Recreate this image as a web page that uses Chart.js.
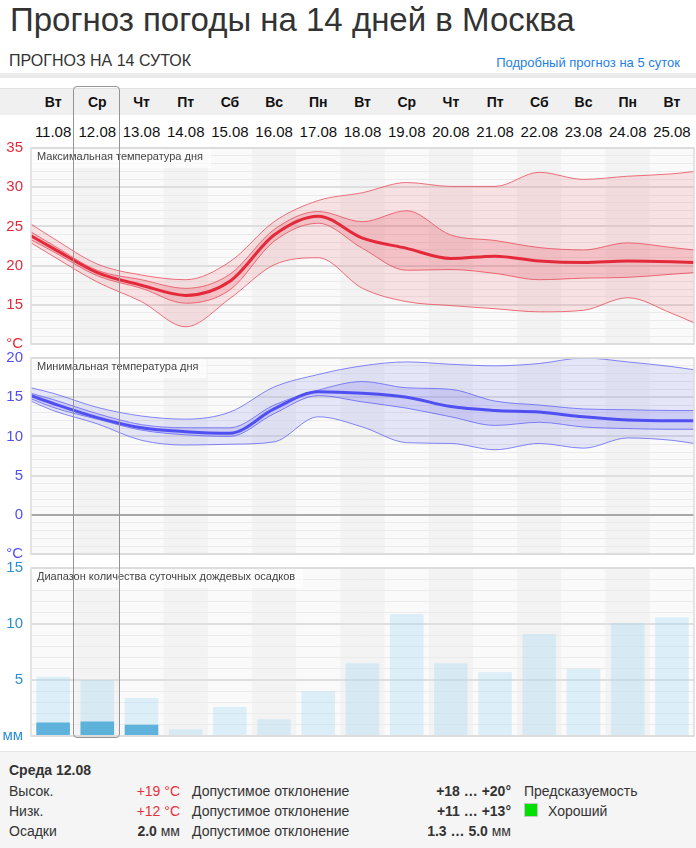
<!DOCTYPE html>
<html>
<head>
<meta charset="utf-8">
<title>Прогноз погоды на 14 дней в Москва</title>
<script src="https://cdn.jsdelivr.net/npm/chart.js"></script>
<style>
    body { margin: 0; width: 696px; height: 848px; position: relative; overflow: hidden;
           font-family: "Liberation Sans", Arial, sans-serif; color: #333; background: #fff; }
    h1 { position: absolute; left: 10px; top: 1px; margin: 0; font-size: 33px; font-weight: normal; color: #333; }
    .sub { position: absolute; left: 9px; top: 52px; font-size: 16px; color: #333; }
    .link { position: absolute; right: 16px; top: 55px; font-size: 13px; color: #1f7fe3; }
    .band { position: absolute; left: 0; top: 73px; width: 696px; height: 5px; background: #ebebeb; }
    #daysBg { position: absolute; left: 0; top: 88px; width: 696px; height: 26px; background: #f0f0f0; border-top: 1px solid #e2e2e2; }
    .row { position: absolute; left: 31px; width: 663px; display: flex; }
    .row div { flex: 1; text-align: center; }
    #days { top: 89px; height: 26px; line-height: 26px; font-weight: bold; font-size: 14px; color: #111; }
    #dates { top: 122px; height: 20px; line-height: 20px; font-size: 15px; color: #111; }
    canvas { position: absolute; left: 0; }
    #maxChart { top: 131px; }
    #minChart { top: 341px; }
    #rainChart { top: 551px; }
    #sel { position: absolute; left: 73px; top: 86px; width: 45px; height: 650px; border: 1px solid #949494; border-radius: 4px; }
    #info { position: absolute; left: 0; top: 751px; width: 696px; height: 97px; background: #f5f5f5; border-top: 1px solid #e6e6e6; font-size: 14px; }
    #info span { position: absolute; white-space: nowrap; }
    .r { text-align: right; }
    .red { color: #e8313c; }
    b { color: #333; }
    .sq { width: 12px; height: 12px; background: #00e000; border: 1px solid #c8c8c8; }
</style>
</head>
<body>

<h1>Прогноз погоды на 14 дней в Москва</h1>
<div class="sub">ПРОГНОЗ НА 14 СУТОК</div>
<div class="link">Подробный прогноз на 5 суток</div>
<div class="band"></div>
<div id="daysBg"></div>
<div id="days" class="row"></div>
<div id="dates" class="row"></div>

<canvas id="maxChart" width="696" height="230"></canvas>
<canvas id="minChart" width="696" height="230"></canvas>
<canvas id="rainChart" width="696" height="202"></canvas>
<div id="sel"></div>

<div id="info">
    <span style="left:9px; top:10px;"><b>Среда 12.08</b></span>
    <span style="left:9px; top:31px;">Высок.</span>
    <span style="left:9px; top:51px;">Низк.</span>
    <span style="left:9px; top:71px;">Осадки</span>
    <span class="r red" style="right:516px; top:31px;">+19 °C</span>
    <span class="r red" style="right:516px; top:51px;">+12 °C</span>
    <span class="r" style="right:516px; top:71px;"><b>2.0</b> мм</span>
    <span style="left:192px; top:31px;">Допустимое отклонение</span>
    <span style="left:192px; top:51px;">Допустимое отклонение</span>
    <span style="left:192px; top:71px;">Допустимое отклонение</span>
    <span class="r" style="right:185px; top:31px;"><b>+18 … +20°</b></span>
    <span class="r" style="right:185px; top:51px;"><b>+11 … +13°</b></span>
    <span class="r" style="right:185px; top:71px;"><b>1.3 … 5.0</b> мм</span>
    <span style="left:524px; top:31px;">Предсказуемость</span>
    <span class="sq" style="left:524px; top:51px;"></span>
    <span style="left:548px; top:51px;">Хороший</span>
</div>

<script>
    const days = ['Вт', 'Ср', 'Чт', 'Пт', 'Сб', 'Вс', 'Пн', 'Вт', 'Ср', 'Чт', 'Пт', 'Сб', 'Вс', 'Пн', 'Вт'];
    const dates = ['11.08', '12.08', '13.08', '14.08', '15.08', '16.08', '17.08', '18.08',
                   '19.08', '20.08', '21.08', '22.08', '23.08', '24.08', '25.08'];

    // temperature curves: first and last value sit on the left / right edge of the plot,
    // the 15 in between are the day columns
    const maxMain    = [23.8, 22.2, 19.1, 17.5, 16.2, 18.0, 23.9, 26.3, 23.5, 22.2, 20.9, 21.2, 20.6, 20.4, 20.6, 20.5, 20.4];
    const maxInnerHi = [24.3, 22.6, 19.4, 18.2, 17.1, 18.9, 24.6, 26.9, 25.6, 27.0, 23.9, 23.2, 22.3, 22.0, 22.9, 22.3, 22.0];
    const maxInnerLo = [23.3, 21.8, 18.7, 17.1, 15.2, 16.9, 23.1, 25.4, 22.2, 19.4, 19.5, 19.0, 18.2, 18.4, 18.5, 18.9, 19.1];
    const maxOuterHi = [25.3, 23.5, 20.2, 18.8, 18.2, 20.5, 25.6, 28.3, 29.3, 30.6, 30.1, 30.1, 31.9, 31.0, 31.4, 31.7, 32.0];
    const maxOuterLo = [22.9, 21.2, 17.9, 15.4, 12.2, 15.8, 20.1, 21.0, 17.1, 15.4, 14.9, 14.5, 14.1, 14.3, 15.9, 13.9, 12.7];

    const minMain    = [15.2, 14.2, 12.4, 11.1, 10.6, 10.4, 13.5, 15.7, 15.5, 15.0, 13.8, 13.3, 13.1, 12.5, 12.1, 12.0, 12.0];
    const minInnerHi = [15.5, 14.7, 12.9, 11.5, 11.1, 11.1, 14.0, 15.9, 17.0, 16.2, 16.0, 14.5, 14.0, 13.5, 13.4, 13.3, 13.3];
    const minInnerLo = [14.8, 13.7, 12.2, 10.8, 10.2, 10.0, 12.9, 15.2, 14.4, 13.6, 12.5, 11.4, 11.8, 11.2, 11.0, 10.9, 10.9];
    const minOuterHi = [16.2, 15.5, 13.7, 12.6, 12.2, 13.1, 16.3, 17.9, 19.0, 19.5, 19.2, 19.0, 19.3, 20.0, 19.5, 18.9, 18.5];
    const minOuterLo = [14.5, 13.3, 11.6, 9.5, 8.9, 9.0, 9.3, 12.5, 11.2, 9.2, 9.1, 8.3, 9.1, 8.5, 9.8, 9.5, 9.1];

    const rainMax = [5.3, 5.0, 3.4, 0.6, 2.6, 1.5, 4.0, 6.5, 10.9, 6.5, 5.7, 9.1, 6.0, 10.1, 10.6];
    const rainMin = [1.2, 1.3, 1.0, 0, 0, 0, 0, 0, 0, 0, 0, 0, 0, 0, 0];

    const maxTicks = { min: 10, max: 35, unit: '°C' };
    const minTicks = { min: -5, max: 20, unit: '°C' };
    const rainTicks = { min: 0, max: 15, unit: 'мм' };

    days.forEach(d => {
        let el = document.createElement('div');
        el.textContent = d;
        document.getElementById('days').appendChild(el);
    });
    dates.forEach(d => {
        let el = document.createElement('div');
        el.textContent = d;
        document.getElementById('dates').appendChild(el);
    });

    Chart.defaults.font.family = '"Liberation Sans", Arial, sans-serif';
    Chart.defaults.animation = false;

    // x position (in day units) of each curve sample
    const xs = [-0.5].concat(days.map((d, i) => i), [days.length - 0.5]);
    const pts = arr => arr.map((v, i) => ({ x: xs[i], y: v }));

    // background, odd-column stripes, frame and small title in the plot
    const panel = {
        id: 'panel',
        beforeDraw(chart, args, opts) {
            const a = chart.chartArea, ctx = chart.ctx;
            const colW = (a.right - a.left) / days.length;
            ctx.save();
            ctx.fillStyle = '#fafafa';
            ctx.fillRect(a.left, a.top, a.right - a.left, a.bottom - a.top);
            ctx.fillStyle = '#f3f3f3';
            for (let i = 1; i < days.length; i += 2) {
                ctx.fillRect(a.left + i * colW, a.top, colW, a.bottom - a.top);
            }
            ctx.restore();
        },
        afterDatasetsDraw(chart, args, opts) {
            const a = chart.chartArea, ctx = chart.ctx;
            ctx.save();
            ctx.font = '11px "Liberation Sans", Arial, sans-serif';
            const w = ctx.measureText(opts.title).width;
            ctx.fillStyle = 'rgba(255,255,255,0.65)';
            ctx.fillRect(a.left, a.top + 1, w + 14, 19);
            ctx.fillStyle = '#444';
            ctx.textBaseline = 'middle';
            ctx.fillText(opts.title, a.left + 6, a.top + 9);
            ctx.strokeStyle = '#dcdcdc';
            ctx.lineWidth = 1.5;
            ctx.strokeRect(a.left, a.top, a.right - a.left, a.bottom - a.top);
            ctx.restore();
        }
    };

    function yScale(t, color, zeroLine) {
        return {
            min: t.min,
            max: t.max,
            afterFit(scale) { scale.width = 31; },
            border: { display: false },
            grid: {
                drawTicks: false,
                color: c => (zeroLine && c.tick.value === 0) ? '#a8a8a8' : (c.tick.value % 5 === 0 ? '#dedede' : '#ebebeb'),
                lineWidth: c => c.tick.value % 5 === 0 ? 2 : 1
            },
            ticks: {
                stepSize: 1,
                autoSkip: false,
                padding: 8,
                color: color,
                font: { size: 15 },
                callback: v => v === t.min ? t.unit : (v % 5 === 0 ? v : '')
            }
        };
    }

    function bandChart(id, title, t, color, line, fillOuter, fillInner, main, innerHi, innerLo, outerHi, outerLo, zeroLine) {
        return new Chart(document.getElementById(id), {
            type: 'line',
            data: {
                datasets: [
                    { data: pts(main), borderColor: color, borderWidth: 3, fill: false },
                    { data: pts(innerHi), borderColor: line, borderWidth: 1, fill: '+1', backgroundColor: fillInner },
                    { data: pts(innerLo), borderColor: line, borderWidth: 1, fill: false },
                    { data: pts(outerHi), borderColor: line, borderWidth: 1, fill: '+1', backgroundColor: fillOuter },
                    { data: pts(outerLo), borderColor: line, borderWidth: 1, fill: false }
                ]
            },
            options: {
                responsive: false,
                layout: { padding: { top: 0, bottom: 0, right: 2, left: 0 } },
                elements: { point: { radius: 0 }, line: { cubicInterpolationMode: 'monotone' } },
                scales: {
                    x: { type: 'linear', min: -0.5, max: days.length - 0.5, display: false },
                    y: yScale(t, color, zeroLine)
                },
                plugins: {
                    legend: { display: false },
                    tooltip: { enabled: false },
                    panel: { title: title }
                }
            },
            plugins: [panel]
        });
    }

    bandChart('maxChart', 'Максимальная температура дня', maxTicks, '#e42a3a', 'rgba(232,70,85,0.75)',
        'rgba(228,50,65,0.12)', 'rgba(228,50,65,0.18)',
        maxMain, maxInnerHi, maxInnerLo, maxOuterHi, maxOuterLo, false);

    bandChart('minChart', 'Минимальная температура дня', minTicks, '#4f4ff2', 'rgba(95,95,245,0.75)',
        'rgba(90,90,240,0.13)', 'rgba(90,90,240,0.17)',
        minMain, minInnerHi, minInnerLo, minOuterHi, minOuterLo, true);

    new Chart(document.getElementById('rainChart'), {
        type: 'bar',
        data: {
            labels: dates,
            datasets: [
                { data: rainMin, backgroundColor: 'rgba(82,172,216,0.92)' },
                { data: rainMax, backgroundColor: 'rgba(170,222,245,0.38)' }
            ]
        },
        options: {
            responsive: false,
            layout: { padding: { top: 0, bottom: 0, right: 2, left: 0 } },
            datasets: { bar: { categoryPercentage: 1, barPercentage: 0.76 } },
            scales: {
                x: { display: false, stacked: true },
                y: yScale(rainTicks, '#2d8fd5', false)
            },
            plugins: {
                legend: { display: false },
                tooltip: { enabled: false },
                panel: { title: 'Диапазон количества суточных дождевых осадков' }
            }
        },
        plugins: [panel]
    });
</script>

</body>
</html>
